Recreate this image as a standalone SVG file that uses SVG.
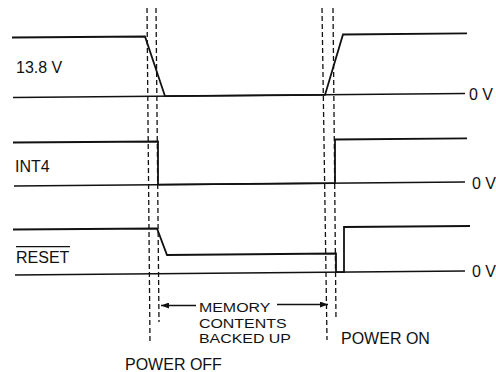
<svg xmlns="http://www.w3.org/2000/svg" width="496" height="372" viewBox="0 0 496 372">
<defs>
<style>
.sig{fill:none;stroke:#111;stroke-width:1.8;stroke-linejoin:miter}
.base{fill:none;stroke:#111;stroke-width:1.6}
.dash{fill:none;stroke:#111;stroke-width:1.3;stroke-dasharray:5 3}
.conn{fill:none;stroke:#111;stroke-width:1.3}
text{font-family:"Liberation Sans",Arial,sans-serif;font-size:16px;fill:#111}
.mem{font-size:13.5px}
</style>
<marker id="ah" viewBox="0 0 8 6" refX="8" refY="3" markerWidth="8" markerHeight="6" markerUnits="userSpaceOnUse" orient="auto">
<path d="M0,0 L8,3 L0,6 Z" fill="#111"/>
</marker>
</defs>
<rect width="496" height="372" fill="#fff"/>
<g id="timing-markers">
<path class="dash" d="M147,8 L150,343"/>
<path class="dash" d="M156,8 L159,322"/>
<path class="dash" d="M322,8 L327,340"/>
<path class="dash" d="M333,8 L336,320"/>
</g>
<g id="signal-13v8">
<path class="base" d="M13,97.5 L465,93.5"/>
<path class="sig" d="M12,37.5 L145,36.5 L165,96.2 L325,94.9 L343,34.5 L467,33.4"/>
<text x="16" y="73">13.8 V</text>
<text x="469" y="99.5">0 V</text>
</g>
<g id="signal-int4">
<path class="base" d="M14,186 L465,182"/>
<path class="sig" d="M13,142.5 L158,141.5 L158,184.7 L335,183.2 L335,139.5 L467,138.3"/>
<text x="15" y="172">INT4</text>
<text x="472" y="189">0 V</text>
</g>
<g id="signal-reset">
<path class="base" d="M15,275 L465,271"/>
<path class="sig" d="M13,229.5 L157,228.5 L167,255 L336,253.5 L336,272.1 L344,272 L344,227 L470,226"/>
<text x="16" y="263">RESET</text>
<line x1="16" y1="246.7" x2="70" y2="246.7" stroke="#111" stroke-width="1.3"/>
<text x="472" y="277">0 V</text>
</g>
<g id="memory-label" transform="translate(199,0) scale(1.18,1)">
<text class="mem" x="0" y="312.5">MEMORY</text>
<text class="mem" x="0" y="328">CONTENTS</text>
<text class="mem" x="0" y="343.5">BACKED UP</text>
</g>
<g id="power-off-label">
<text x="125" y="370">POWER OFF</text>
</g>
<g id="power-on-label">
<text x="341" y="344">POWER ON</text>
</g>
<g id="connectors">
<line class="conn" x1="196" y1="305.5" x2="161" y2="305.5" marker-end="url(#ah)"/>
<line class="conn" x1="277" y1="304.5" x2="328" y2="304.5" marker-end="url(#ah)"/>
</g>
</svg>
